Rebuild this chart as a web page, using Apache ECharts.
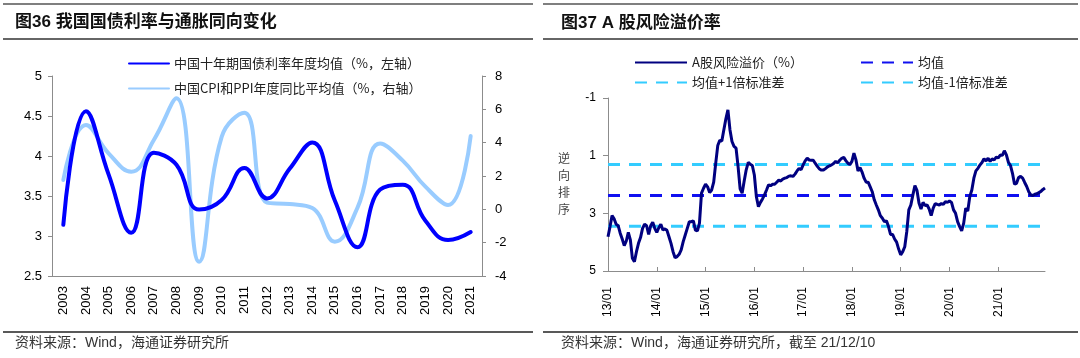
<!DOCTYPE html>
<html><head><meta charset="utf-8">
<script src="https://cdn.jsdelivr.net/npm/echarts@6/dist/echarts.min.js"></script>
<style>html,body{margin:0;padding:0;background:#fff}#c{width:1080px;height:358px}</style>
</head><body><div id="c"></div>
<script>
// ---------- Left chart data ----------
const years = ['2003','2004','2005','2006','2007','2008','2009','2010','2011','2012','2013','2014','2015','2016','2017','2018','2019','2020','2021'];
const bondYield = [3.14,4.56,3.77,3.04,4.04,3.89,3.33,3.45,3.85,3.47,3.84,4.17,3.44,2.86,3.58,3.64,3.19,2.95,3.05];
const cpiPpi = [1.76,5.06,3.36,2.26,4.16,6.66,-3.14,4.36,5.80,0.40,0.32,0.08,-1.94,0.10,3.95,2.92,1.36,0.26,4.40];
const leftTicks = {min:2.5, max:5, interval:0.5};
const rightTicks = {min:-4, max:8, interval:2};

// ---------- Right chart data (semi-monthly, 2013/01 - 2021/12) ----------
const rpDates = [];
for (let y = 13; y <= 21; y++) for (let m = 1; m <= 12; m++) for (const d of ['01','16']) rpDates.push(y + '/' + String(m).padStart(2,'0') + '/' + d);
const riskPremium = [
3.81,3.46,3.08,3.19,3.38,3.43,3.69,3.89,4.12,3.96,3.66,3.92,4.56,4.68,4.33,4.04,3.84,3.52,3.38,3.43,3.73,3.43,3.31,3.52,
3.66,3.50,3.38,3.58,3.54,3.59,3.81,4.04,4.33,4.54,4.50,4.42,4.27,3.98,3.75,3.52,3.29,3.29,3.26,3.58,3.61,3.34,2.30,2.13,
1.99,2.08,2.28,2.19,1.92,1.26,0.65,0.47,0.49,0.10,-0.28,-0.59,0.10,0.51,0.68,0.74,1.38,2.15,2.30,1.88,1.49,1.23,1.30,1.34,
1.67,2.42,2.77,2.62,2.50,2.36,2.19,2.01,2.04,1.99,1.99,1.92,1.85,1.88,1.81,1.78,1.76,1.71,1.70,1.72,1.64,1.53,1.44,1.49,
1.32,1.18,1.09,1.15,1.16,1.16,1.27,1.37,1.46,1.50,1.50,1.45,1.39,1.35,1.32,1.27,1.20,1.25,1.16,1.09,1.06,1.17,1.26,1.31,
1.20,0.91,1.15,1.53,1.41,1.57,1.78,1.92,1.92,2.08,2.25,2.53,2.71,2.88,3.08,3.17,3.29,3.26,3.46,3.73,3.73,3.89,4.00,4.24,
4.44,4.33,4.16,3.63,2.88,2.71,2.36,2.04,2.20,2.64,2.85,2.62,2.73,2.71,2.85,3.08,2.82,2.66,2.69,2.71,2.66,2.69,2.59,2.62,
2.57,2.62,2.88,3.00,3.29,3.46,3.61,3.34,2.82,2.92,2.42,2.19,1.78,1.53,1.44,1.32,1.24,1.11,1.18,1.09,1.20,1.11,1.15,1.05,
1.08,0.98,0.99,0.83,0.97,1.23,1.34,1.61,1.99,1.96,1.76,1.72,1.78,1.93,2.07,2.25,2.36,2.38,2.34,2.32,2.28,2.24,2.17,2.12
];
const rpMean = 2.38, rpPlusStd = 3.45, rpMinusStd = 1.31;
const rpTicks = {min:-1, max:5, interval:2};

const FONT = '"Liberation Sans","Noto Sans CJK SC",sans-serif';
const CJK = '"Noto Sans CJK SC","Liberation Sans",sans-serif';
const axisGray = '#8c8c8c';
const yearStart = (idx, val) => val.slice(3) === '01/01';

const names = {
  by: '中国十年期国债利率年度均值（%，左轴）',
  cp: '中国CPI和PPI年度同比平均值（%，右轴）',
  rp: 'A股风险溢价（%）',
  mean: '均值',
  up: '均值+1倍标准差',
  dn: '均值-1倍标准差'
};

const legendBase = {orient:'vertical', itemGap:0, textStyle:{fontSize:13, color:'#222', fontFamily:CJK}, itemStyle:{opacity:0}, selectedMode:false};

const chart = echarts.init(document.getElementById('c'), null, {renderer:'canvas'});
chart.setOption({
  animation:false,
  backgroundColor:'#fff',
  grid:[
    {left:52, top:76, width:430, height:200},
    {left:608, top:98, width:437, height:173}
  ],
  legend:[
    Object.assign({}, legendBase, {data:[names.by], left:123, top:52, itemWidth:40, itemHeight:16}),
    Object.assign({}, legendBase, {data:[names.cp], left:123, top:77, itemWidth:40, itemHeight:16}),
    Object.assign({}, legendBase, {data:[names.rp], left:629, top:51, itemWidth:52, itemHeight:16}),
    Object.assign({}, legendBase, {data:[names.mean], left:855, top:51, itemWidth:52, itemHeight:16}),
    Object.assign({}, legendBase, {data:[names.up], left:629, top:71, itemWidth:52, itemHeight:16}),
    Object.assign({}, legendBase, {data:[names.dn], left:855, top:71, itemWidth:52, itemHeight:16})
  ],
  xAxis:[
    {gridIndex:0, type:'category', data:years, boundaryGap:true,
     axisLine:{onZero:false, lineStyle:{color:axisGray}}, axisTick:{length:6, lineStyle:{color:axisGray}},
     axisLabel:{rotate:90, fontSize:13, color:'#000', margin:10, fontFamily:FONT}, splitLine:{show:false}},
    {gridIndex:1, type:'category', data:rpDates, boundaryGap:false,
     axisLine:{onZero:false, lineStyle:{color:axisGray}},
     axisTick:{inside:true, length:4, interval:yearStart, lineStyle:{color:axisGray}},
     axisLabel:{interval:yearStart, formatter:v => v.slice(0,5), rotate:90, fontSize:12, color:'#000', margin:16, fontFamily:FONT},
     splitLine:{show:false}}
  ],
  yAxis:[
    {gridIndex:0, type:'value', min:leftTicks.min, max:leftTicks.max, interval:leftTicks.interval,
     axisLine:{show:true, onZero:false, lineStyle:{color:axisGray}}, axisTick:{show:true, length:4, lineStyle:{color:axisGray}},
     axisLabel:{fontSize:13, color:'#000', margin:10, fontFamily:FONT}, splitLine:{show:false}},
    {gridIndex:0, type:'value', position:'right', min:rightTicks.min, max:rightTicks.max, interval:rightTicks.interval,
     axisLine:{show:true, onZero:false, lineStyle:{color:axisGray}}, axisTick:{show:true, length:4, lineStyle:{color:axisGray}},
     axisLabel:{fontSize:13, color:'#000', margin:13, fontFamily:FONT}, splitLine:{show:false}},
    {gridIndex:1, type:'value', inverse:true, min:rpTicks.min, max:rpTicks.max, interval:rpTicks.interval,
     axisLine:{show:true, onZero:false, lineStyle:{color:axisGray}}, axisTick:{show:true, length:5, lineStyle:{color:axisGray}},
     axisLabel:{fontSize:12, color:'#000', margin:12, fontFamily:FONT}, splitLine:{show:false}}
  ],
  series:[
    {name:names.by, type:'line', xAxisIndex:0, yAxisIndex:0, data:bondYield, smooth:0.45, symbol:'none',
     color:'#0000FF', lineStyle:{width:4, color:'#0000FF', cap:'round'}, z:3},
    {name:names.cp, type:'line', xAxisIndex:0, yAxisIndex:1, data:cpiPpi, smooth:0.45, symbol:'none',
     color:'#99CCFF', lineStyle:{width:4, color:'#99CCFF', cap:'round'}, z:2},
    {name:names.mean, type:'line', xAxisIndex:1, yAxisIndex:2, data:rpDates.map(() => rpMean), symbol:'none',
     color:'#1010F0', lineStyle:{width:3, color:'#1010F0', type:[12,9]}, z:2},
    {name:names.up, type:'line', xAxisIndex:1, yAxisIndex:2, data:rpDates.map(() => rpPlusStd), symbol:'none',
     color:'#33CCFF', lineStyle:{width:3, color:'#33CCFF', type:[12,9]}, z:2},
    {name:names.dn, type:'line', xAxisIndex:1, yAxisIndex:2, data:rpDates.map(() => rpMinusStd), symbol:'none',
     color:'#33CCFF', lineStyle:{width:3, color:'#33CCFF', type:[12,9]}, z:2},
    {name:names.rp, type:'line', xAxisIndex:1, yAxisIndex:2, data:riskPremium, symbol:'none',
     color:'#000080', lineStyle:{width:3, color:'#000080'}, z:5}
  ],
  graphic:[
    {type:'line', shape:{x1:3, y1:4, x2:533, y2:4}, style:{stroke:'#555', lineWidth:1.5}},
    {type:'line', shape:{x1:3, y1:39, x2:533, y2:39}, style:{stroke:'#333', lineWidth:1.5}},
    {type:'line', shape:{x1:3, y1:332, x2:533, y2:332}, style:{stroke:'#222', lineWidth:1.5}},
    {type:'line', shape:{x1:543, y1:4, x2:1078, y2:4}, style:{stroke:'#555', lineWidth:1.5}},
    {type:'line', shape:{x1:543, y1:39, x2:1078, y2:39}, style:{stroke:'#333', lineWidth:1.5}},
    {type:'line', shape:{x1:543, y1:332, x2:1078, y2:332}, style:{stroke:'#222', lineWidth:1.5}},
    {type:'text', x:15, y:22, style:{text:'图36 我国国债利率与通胀同向变化', fontSize:17, fontWeight:'bold', fontFamily:FONT, fill:'#111', verticalAlign:'middle', align:'left'}},
    {type:'text', x:561, y:23, style:{text:'图37 A 股风险溢价率', fontSize:17, fontWeight:'bold', fontFamily:FONT, fill:'#111', verticalAlign:'middle', align:'left'}},
    {type:'text', x:15, y:343, style:{text:'资料来源：Wind，海通证券研究所', fontSize:14, fontFamily:FONT, fill:'#333', verticalAlign:'middle', align:'left'}},
    {type:'text', x:561, y:343, style:{text:'资料来源：Wind，海通证券研究所，截至 21/12/10', fontSize:14, fontFamily:FONT, fill:'#333', verticalAlign:'middle', align:'left'}},
    {type:'text', x:564, y:184, style:{text:'逆\n向\n排\n序', fontSize:12, lineHeight:17, fontFamily:CJK, fill:'#444', verticalAlign:'middle', align:'center'}}
  ]
});
</script>
</body></html>
